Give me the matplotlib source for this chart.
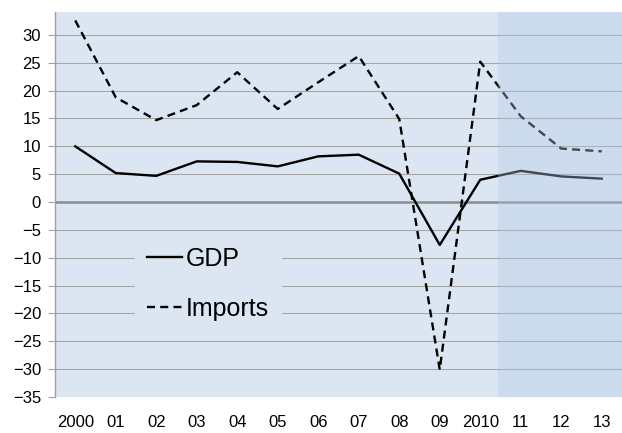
import matplotlib
matplotlib.use("Agg")
import matplotlib.pyplot as plt
from matplotlib.patches import Rectangle

plt.rcParams['font.family'] = ['Liberation Sans', 'DejaVu Sans']

years = ["2000", "01", "02", "03", "04", "05", "06", "07", "08", "09", "2010", "11", "12", "13"]
gdp = [10.0, 5.2, 4.7, 7.3, 7.2, 6.4, 8.2, 8.5, 5.1, -7.7, 4.0, 5.6, 4.6, 4.2]
imports = [32.6, 18.8, 14.7, 17.4, 23.3, 16.7, 21.5, 26.2, 14.9, -30.1, 25.2, 15.4, 9.6, 9.1]
forecast_start = 10.45  # shaded forecast area starts between 2010 and 2011

bg = "#dce6f2"
x = list(range(len(years)))

fig = plt.figure(figsize=(6.22, 4.33), dpi=100)
ax = fig.add_axes([0.0884, 0.0831, 0.9116, 0.889])
ax.set_facecolor(bg)

ax.plot(x, gdp, color="black", lw=1.7, label="GDP", zorder=3)
ax.plot(x, imports, color="black", lw=1.7, ls=(0, (3.4, 2.2)), label="Imports", zorder=3)

# forecast overlay (semi-transparent, dims the lines beneath)
ax.add_patch(Rectangle((forecast_start, -35), 13.5 - forecast_start, 70,
                       facecolor="#b2c8e9", alpha=0.36, lw=0, zorder=4))

ax.set_xlim(-0.5, 13.5)
ax.set_ylim(-35, 34.1)
ax.set_yticks(range(-35, 31, 5))
ax.set_xticks(x)
ax.set_xticklabels(years)

ax.yaxis.grid(True, color="#a6a6a6", lw=0.8, zorder=1)
ax.axhline(0, color="#8c8c8c", lw=1.8, zorder=2)

for s in ["top", "right", "bottom"]:
    ax.spines[s].set_visible(False)
ax.spines["left"].set_color("#a0a0a0")
ax.spines["left"].set_linewidth(1.0)

ax.tick_params(axis="y", length=5, color="#a0a0a0", labelsize=12, pad=5)
ax.tick_params(axis="x", length=0, labelsize=12, pad=13)

leg = ax.legend(loc="upper left", bbox_to_anchor=(0.141, 0.423), frameon=True,
                fontsize=18, handlelength=1.4, handletextpad=0.12,
                labelspacing=1.05, borderpad=0.5, borderaxespad=0)
leg.get_frame().set_facecolor(bg)
leg.get_frame().set_edgecolor(bg)
leg.get_frame().set_alpha(1)
leg.get_frame().set_boxstyle("square", pad=0)
leg.set_zorder(5)

fig.savefig("out.png", dpi=100)
